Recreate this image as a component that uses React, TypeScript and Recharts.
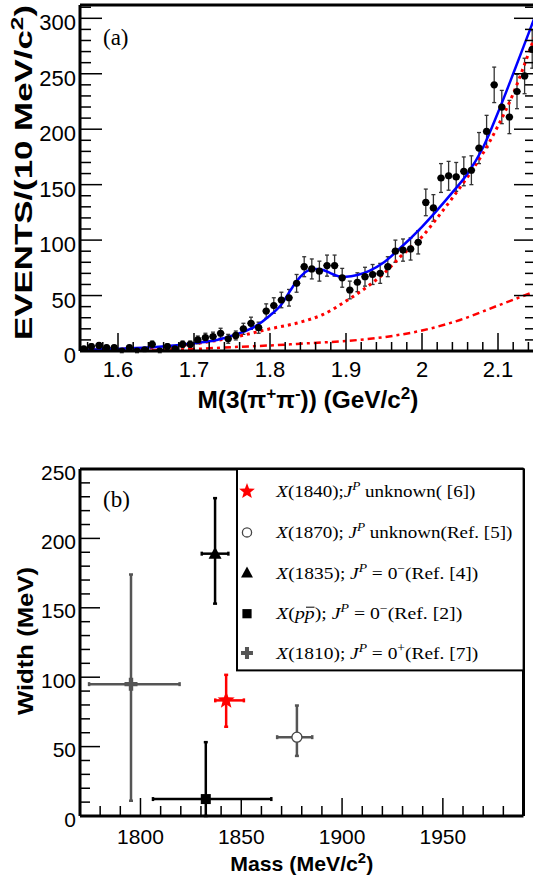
import React from 'react'
import { ComposedChart, Scatter, Line, XAxis, YAxis, ErrorBar, Legend } from 'recharts'

// ---------- panel (a): M(3(pi+pi-)) spectrum, 10 MeV bins ----------
const BIN_CENTERS = [
  1.555, 1.565, 1.575, 1.585, 1.595, 1.605, 1.615, 1.625, 1.635, 1.645,
  1.655, 1.665, 1.675, 1.685, 1.695, 1.705, 1.715, 1.725, 1.735, 1.745,
  1.755, 1.765, 1.775, 1.785, 1.795, 1.805, 1.815, 1.825, 1.835, 1.845,
  1.855, 1.865, 1.875, 1.885, 1.895, 1.905, 1.915, 1.925, 1.935, 1.945,
  1.955, 1.965, 1.975, 1.985, 1.995, 2.005, 2.015, 2.025, 2.035, 2.045,
  2.055, 2.065, 2.075, 2.085, 2.095, 2.105, 2.115, 2.125, 2.135, 2.145,
]
const EVENTS = [
  2, 4, 5, 3, 3, 0, 3, 0, 1, 6,
  0, 4, 2, 6, 6, 10, 12, 13, 16, 11,
  14, 20, 25, 21, 36, 41, 46, 48, 61, 76,
  74, 72, 77, 77, 66, 55, 62, 67, 69, 70,
  76, 90, 91, 92, 98, 134, 129, 156, 158, 157,
  162, 163, 183, 198, 240, 220, 211, 234, 248, 272,
]
const EVENT_ERRORS = [
  2, 2.5, 2.5, 2, 2, 1.5, 2, 1.5, 1.5, 3,
  1.5, 2.5, 2, 3, 3, 3.5, 4, 4, 4.5, 4,
  4, 5, 5.5, 5, 6.5, 7, 7, 7.5, 8, 9,
  9, 9, 9.5, 9.5, 8.5, 8, 8.5, 8.5, 9, 9,
  9, 10, 10, 10, 10.5, 12, 12, 13, 13, 13,
  13, 13, 14, 14.5, 16, 15, 15, 15.5, 16, 17,
]
const BIN_HALF_WIDTH = 0.005

// total fit (blue)
const FIT_X = [1.55, 1.6, 1.65, 1.7, 1.73, 1.76, 1.78, 1.8, 1.815, 1.83, 1.84, 1.85, 1.86, 1.87, 1.88, 1.89, 1.9, 1.915, 1.93, 1.95, 1.97, 2.0, 2.02, 2.04, 2.06, 2.08, 2.1, 2.12, 2.14, 2.15]
const FIT_TOTAL = [1, 2, 3.5, 7, 10, 16, 22, 32, 42, 58, 67, 72.5, 74, 73, 70, 67.5, 67, 68.5, 72, 80, 92, 112, 127, 143, 160, 183, 215, 250, 286, 304]
// background (red dotted)
const BKG_X = [1.55, 1.6, 1.65, 1.7, 1.75, 1.8, 1.84, 1.87, 1.9, 1.93, 1.95, 1.97, 2.0, 2.02, 2.04, 2.06, 2.08, 2.1, 2.12, 2.14, 2.15]
const BKG = [0.5, 1.5, 3, 6.5, 12, 20, 26, 33, 45, 59, 70, 84, 103, 120, 138, 157, 178, 203, 232, 268, 287]
// second component (red dash-dot)
const PS_X = [1.55, 1.6, 1.65, 1.7, 1.75, 1.8, 1.85, 1.9, 1.95, 2.0, 2.05, 2.1, 2.15]
const PS = [0, 0.3, 0.8, 1.8, 3.5, 5, 7, 9, 12.5, 18.5, 28, 41, 54]

const A_X_MAJOR = [1.6, 1.7, 1.8, 1.9, 2, 2.1]
const A_X_MINOR = [1.56, 1.58, 1.62, 1.64, 1.66, 1.68, 1.72, 1.74, 1.76, 1.78, 1.82, 1.84, 1.86, 1.88, 1.92, 1.94, 1.96, 1.98, 2.02, 2.04, 2.06, 2.08, 2.12, 2.14]
const A_Y_MAJOR = [0, 50, 100, 150, 200, 250, 300]
const A_Y_MINOR = [10, 20, 30, 40, 60, 70, 80, 90, 110, 120, 130, 140, 160, 170, 180, 190, 210, 220, 230, 240, 260, 270, 280, 290, 310]

// ---------- panel (b): mass vs width ----------
const MASS = [1842.5, 1877.6, 1837, 1832.4, 1795.3]
const MASS_ERR = [[5.4, 8.8], [9.8, 7.6], [6.6, 6.6], [26.2, 32.5], [20.8, 24.1]]
const WIDTH = [83.3, 56.8, 189, 12.2, 95]
const WIDTH_ERR = [[19, 18.4], [13.5, 22.8], [36, 40], [12.2, 41], [84, 79]]
const MARKER = ['star', 'circle', 'triangle', 'square', 'cross']
const COLOR = ['#ff0000', '#555555', '#000000', '#000000', '#555555']

// flags: i = italic, s = superscript
const LEGEND_TEXT: [string, string][][] = [
  [['X', 'i'], ['(1840);', ''], ['J', 'i'], ['P', 'is'], [' unknown( [6])', '']],
  [['X', 'i'], ['(1870); ', ''], ['J', 'i'], ['P', 'is'], [' unknown(Ref. [5])', '']],
  [['X', 'i'], ['(1835); ', ''], ['J', 'i'], ['P', 'is'], [' = 0', ''], ['\u2212', 's'], ['(Ref. [4])', '']],
  [['X', 'i'], ['(', ''], ['pp', 'i'], ['); ', ''], ['J', 'i'], ['P', 'is'], [' = 0', ''], ['\u2212', 's'], ['(Ref. [2])', '']],
  [['X', 'i'], ['(1810); ', ''], ['J', 'i'], ['P', 'is'], [' = 0', ''], ['+', 's'], ['(Ref. [7])', '']],
]
const LEGEND_TEXT_WIDTH = [199, 236, 202, 186, 202]

const B_X_MAJOR = [1800, 1850, 1900, 1950]
const B_X_MINOR = [1780, 1790, 1810, 1820, 1830, 1840, 1860, 1870, 1880, 1890, 1910, 1920, 1930, 1940, 1960, 1970, 1980]
const B_Y_MAJOR = [0, 50, 100, 150, 200, 250]
const B_Y_MINOR = [10, 20, 30, 40, 60, 70, 80, 90, 110, 120, 130, 140, 160, 170, 180, 190, 210, 220, 230, 240]

const SANS = 'Liberation Sans, Arial, Helvetica, sans-serif'
const SERIF = 'Liberation Serif, Times New Roman, serif'

type Side = 'bottom' | 'top' | 'left' | 'right'
const ticker = (side: Side, majors: number[], major: number, minor: number, font = 0, dy = 0) => (p: any) => {
  const { x, y, payload } = p
  const v = payload.value
  const isMajor = majors.includes(v)
  const len = isMajor ? major : minor
  let x2 = x
  let y2 = y
  if (side === 'bottom') y2 = y - len
  if (side === 'top') y2 = y + len
  if (side === 'left') x2 = x + len
  if (side === 'right') x2 = x - len
  return (
    <g>
      <line x1={x} y1={y} x2={x2} y2={y2} stroke="#000" strokeWidth={1.5} />
      {isMajor && font > 0 && side === 'bottom' && (
        <text x={x} y={y + dy} textAnchor="middle" fontFamily={SANS} fontSize={font} fill="#000">{String(v)}</text>
      )}
      {isMajor && font > 0 && side === 'left' && (
        <text x={x - 4} y={y + dy} textAnchor="end" fontFamily={SANS} fontSize={font} fill="#000">{String(v)}</text>
      )}
    </g>
  )
}

// text with superscripts
function Segs({ segs, size, sup }: { segs: [string, string][]; size: number; sup: number }) {
  let raised = false
  return (
    <>
      {segs.map(([t, f], k) => {
        const s = f.includes('s')
        const dy = s && !raised ? -sup : !s && raised ? sup : 0
        raised = s
        return (
          <tspan key={k} dy={dy || undefined} fontStyle={f.includes('i') ? 'italic' : 'normal'} fontSize={s ? size * 0.7 : size}>{t}</tspan>
        )
      })}
    </>
  )
}

const boxOf = (p: any) => p.viewBox || p

function Marker({ kind, cx, cy, color, scale = 1 }: { kind: string; cx: number; cy: number; color: string; scale?: number }) {
  if (kind === 'star') {
    const R = 9 * scale
    const r = R * 0.42
    let d = ''
    for (let k = 0; k < 10; k++) {
      const rad = k % 2 === 0 ? R : r
      const a = -Math.PI / 2 + (k * Math.PI) / 5
      d += (k === 0 ? 'M' : 'L') + (cx + rad * Math.cos(a)).toFixed(2) + ',' + (cy + rad * Math.sin(a)).toFixed(2)
    }
    return <path d={d + 'Z'} fill={color} />
  }
  if (kind === 'circle') {
    return <circle cx={cx} cy={cy} r={5 * scale} fill="#fff" stroke="#444" strokeWidth={1.3} />
  }
  if (kind === 'triangle') {
    const w = 6.5 * scale
    return <path d={`M${cx},${cy - 7 * scale}L${cx + w},${cy + 5 * scale}L${cx - w},${cy + 5 * scale}Z`} fill={color} />
  }
  if (kind === 'square') {
    const h = 5 * scale
    return <rect x={cx - h} y={cy - h} width={2 * h} height={2 * h} fill={color} />
  }
  const a = 6.5 * scale
  const t = 2.2 * scale
  return (
    <path
      d={`M${cx - a},${cy - t}H${cx - t}V${cy - a}H${cx + t}V${cy - t}H${cx + a}V${cy + t}H${cx + t}V${cy + a}H${cx - t}V${cy + t}H${cx - a}Z`}
      fill={color}
    />
  )
}

function PanelA() {
  const points = BIN_CENTERS.map((x, i) => ({ x, y: EVENTS[i], ey: EVENT_ERRORS[i], ex: BIN_HALF_WIDTH }))
  const fit = FIT_X.map((x, i) => ({ x, y: FIT_TOTAL[i] }))
  const bkg = BKG_X.map((x, i) => ({ x, y: BKG[i] }))
  const ps = PS_X.map((x, i) => ({ x, y: PS[i] }))
  const xTicks = [...A_X_MAJOR, ...A_X_MINOR]
  const yTicks = [...A_Y_MAJOR, ...A_Y_MINOR]
  const axisLine = { stroke: '#000', strokeWidth: 3 }

  return (
    <ComposedChart width={540} height={420} margin={{ top: 4, right: 3, bottom: 68, left: 79 }}>
      <XAxis
        xAxisId="b" dataKey="x" type="number" domain={[1.55, 2.15]} allowDataOverflow
        ticks={xTicks} interval={0} height={1} tickSize={0} tickMargin={0} tickLine={false}
        axisLine={axisLine} tick={ticker('bottom', A_X_MAJOR, 18, 9, 22, 26)}
        label={(p: any) => {
          const vb = boxOf(p)
          return (
            <text x={vb.x + vb.width / 2} y={vb.y + 57} textAnchor="middle" fontFamily={SANS} fontWeight="bold" textLength={221} lengthAdjust="spacingAndGlyphs">
              <Segs size={24} sup={9} segs={[['M(3(\u03c0', ''], ['+', 's'], ['\u03c0', ''], ['-', 's'], [')) (GeV/c', ''], ['2', 's'], [')', '']]} />
            </text>
          )
        }}
      />
      <XAxis
        xAxisId="t" orientation="top" type="number" domain={[1.55, 2.15]} allowDataOverflow
        ticks={xTicks} interval={0} height={1} tickSize={0} tickMargin={0} tickLine={false}
        axisLine={axisLine} tick={ticker('top', A_X_MAJOR, 18, 9)}
        label={(p: any) => {
          const vb = boxOf(p)
          return <text x={vb.x + 23} y={vb.y + 41} fontFamily={SERIF} fontSize={23} fill="#000">(a)</text>
        }}
      />
      <YAxis
        yAxisId="l" dataKey="y" type="number" domain={[0, 312]} allowDataOverflow
        ticks={yTicks} interval={0} width={1} tickSize={0} tickMargin={0} tickLine={false}
        axisLine={axisLine} tick={ticker('left', A_Y_MAJOR, 22, 11, 22, 12)}
        label={(p: any) => {
          const vb = boxOf(p)
          return (
            <text transform="rotate(-90)" x={-vb.y} y={vb.x - 47} textAnchor="end" fontFamily={SANS} fontWeight="bold" textLength={335} lengthAdjust="spacingAndGlyphs">
              <Segs size={24} sup={9} segs={[['EVENTS/(10 MeV/c', ''], ['2', 's'], [')', '']]} />
            </text>
          )
        }}
      />
      <YAxis
        yAxisId="r" orientation="right" type="number" domain={[0, 312]} allowDataOverflow
        ticks={yTicks} interval={0} width={1} tickSize={0} tickMargin={0} tickLine={false}
        axisLine={axisLine} tick={ticker('right', A_Y_MAJOR, 22, 11)}
      />
      <Scatter
        xAxisId="b" yAxisId="l" data={points} isAnimationActive={false}
        shape={(p: any) => <circle cx={p.cx} cy={p.cy} r={3.6} fill="#000" />}
      >
        <ErrorBar dataKey="ey" direction="y" width={2} stroke="#333" strokeWidth={1.3} />
        <ErrorBar dataKey="ex" direction="x" width={0} stroke="#333" strokeWidth={1.3} />
      </Scatter>
      <Line xAxisId="b" yAxisId="l" data={ps} dataKey="y" type="monotone" stroke="#ff0000" strokeWidth={2.5} strokeDasharray="7 4 3 4" dot={false} activeDot={false} isAnimationActive={false} />
      <Line xAxisId="b" yAxisId="l" data={bkg} dataKey="y" type="monotone" stroke="#ff0000" strokeWidth={3} strokeDasharray="3 4" dot={false} activeDot={false} isAnimationActive={false} />
      <Line xAxisId="b" yAxisId="l" data={fit} dataKey="y" type="monotone" stroke="#0000ff" strokeWidth={2.5} dot={false} activeDot={false} isAnimationActive={false} />
    </ComposedChart>
  )
}

function LegendBox() {
  const rowY = [23.4, 64.4, 105, 145.7, 185]
  return (
    <svg width={290} height={205} style={{ display: 'block' }}>
      <rect x={1} y={1} width={286.6} height={201.4} fill="#fff" stroke="#000" strokeWidth={2} />
      {LEGEND_TEXT.map((segs, i) => (
        <g key={i}>
          <Marker kind={MARKER[i]} cx={11} cy={rowY[i]} color={COLOR[i]} scale={0.92} />
          <text x={40.3} y={rowY[i] + 5.5} fontFamily={SERIF} fill="#000" style={{ whiteSpace: 'pre' }} textLength={LEGEND_TEXT_WIDTH[i]} lengthAdjust="spacingAndGlyphs">
            <Segs size={17} sup={7} segs={segs} />
          </text>
        </g>
      ))}
      {/* bar of the anti-proton in X(p pbar) */}
      <line x1={70} x2={78.5} y1={rowY[3] - 6.5} y2={rowY[3] - 6.5} stroke="#000" strokeWidth={1} />
    </svg>
  )
}

function PanelB() {
  const xTicks = [...B_X_MAJOR, ...B_X_MINOR]
  const yTicks = [...B_Y_MAJOR, ...B_Y_MINOR]
  const axisLine = { stroke: '#000', strokeWidth: 3 }

  return (
    <ComposedChart width={533} height={456} margin={{ top: 48, right: 8.5, bottom: 59, left: 79 }}>
      <XAxis
        xAxisId="b" dataKey="x" type="number" domain={[1770, 1990]} allowDataOverflow
        ticks={xTicks} interval={0} height={1} tickSize={0} tickMargin={0} tickLine={false}
        axisLine={axisLine} tick={ticker('bottom', B_X_MAJOR, 18, 10, 21, 27.5)}
        label={(p: any) => {
          const vb = boxOf(p)
          return (
            <text x={vb.x + vb.width / 2} y={vb.y + 55} textAnchor="middle" fontFamily={SANS} fontWeight="bold" textLength={143} lengthAdjust="spacingAndGlyphs">
              <Segs size={21} sup={8} segs={[['Mass (MeV/c', ''], ['2', 's'], [')', '']]} />
            </text>
          )
        }}
      />
      <XAxis
        xAxisId="t" orientation="top" type="number" domain={[1770, 1990]} allowDataOverflow
        ticks={[1800]} height={1} tick={false} tickLine={false} axisLine={axisLine}
        label={(p: any) => {
          const vb = boxOf(p)
          return <text x={vb.x + 23} y={vb.y + 39} fontFamily={SERIF} fontSize={23} fill="#000">(b)</text>
        }}
      />
      <YAxis
        yAxisId="l" dataKey="y" type="number" domain={[0, 250]} allowDataOverflow
        ticks={yTicks} interval={0} width={1} tickSize={0} tickMargin={0} tickLine={false}
        axisLine={axisLine} tick={ticker('left', B_Y_MAJOR, 20, 10, 21, 10.5)}
        label={(p: any) => {
          const vb = boxOf(p)
          return (
            <text transform="rotate(-90)" x={-(vb.y + vb.height / 2 - 1.5)} y={vb.x - 46} textAnchor="middle" fontFamily={SANS} fontWeight="bold" fontSize={22} textLength={148} lengthAdjust="spacingAndGlyphs">
              Width (MeV)
            </text>
          )
        }}
      />
      <YAxis
        yAxisId="r" orientation="right" type="number" domain={[0, 250]} allowDataOverflow
        ticks={[100]} width={1} tick={false} tickLine={false} axisLine={axisLine}
      />
      {MASS.map((m, i) => (
        <Scatter
          key={i} xAxisId="b" yAxisId="l" isAnimationActive={false}
          data={[{ x: m, y: WIDTH[i], ex: MASS_ERR[i], ey: WIDTH_ERR[i] }]}
          shape={(p: any) => <Marker kind={MARKER[i]} cx={p.cx} cy={p.cy} color={COLOR[i]} />}
        >
          <ErrorBar dataKey="ey" direction="y" width={2} stroke={COLOR[i]} strokeWidth={2.5} />
          <ErrorBar dataKey="ex" direction="x" width={2} stroke={COLOR[i]} strokeWidth={2.5} />
        </Scatter>
      ))}
      <Legend
        layout="vertical" align="center" verticalAlign="middle"
        wrapperStyle={{ left: 235.7, top: 48.3, width: 290, height: 205 }}
        content={() => <LegendBox />}
      />
    </ComposedChart>
  )
}

export default function App() {
  return (
    <div style={{ position: 'absolute', left: 0, top: 0, width: 533, height: 876, overflow: 'hidden', background: '#fff' }}>
      <div style={{ position: 'absolute', left: 0, top: 0 }}>
        <PanelA />
      </div>
      <div style={{ position: 'absolute', left: 0, top: 420 }}>
        <PanelB />
      </div>
    </div>
  )
}
